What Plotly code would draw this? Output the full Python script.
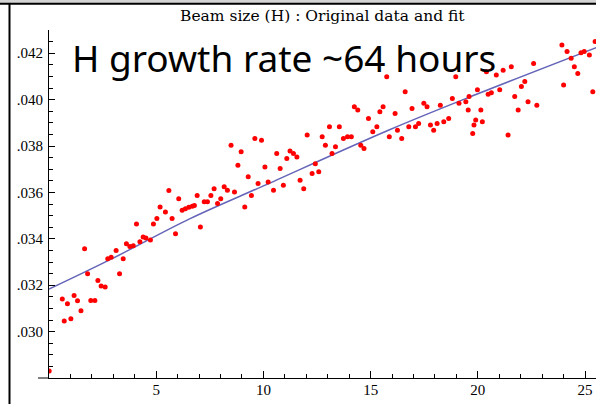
import plotly.graph_objects as go

# Data points (time in hours, beam size)
t = [0.01, 0.62, 0.71, 0.86, 1.02, 1.17, 1.33, 1.49, 1.66, 1.80, 1.95, 2.14, 2.28, 2.43, 2.62,
     2.74, 2.90, 3.13, 3.29, 3.46, 3.61, 3.77, 3.93, 4.08, 4.24, 4.39, 4.52, 4.73, 4.87, 5.03,
     5.18, 5.43, 5.59, 5.74, 5.90, 6.05, 6.21, 6.36, 6.52, 6.68, 6.78, 6.91, 7.06, 7.24, 7.39,
     7.55, 7.70, 7.86, 8.01, 8.17, 8.32, 8.49, 8.65, 8.81, 8.96, 9.13, 9.29, 9.44, 9.60, 9.75,
     9.91, 10.07, 10.22, 10.47, 10.62, 10.78, 10.93, 11.09, 11.24, 11.40, 11.56, 11.71, 11.88, 12.04, 12.27,
     12.42, 12.58, 12.74, 12.89, 13.08, 13.20, 13.36, 13.54, 13.73, 13.92, 14.10, 14.24, 14.40, 14.54, 14.69,
     14.90, 15.10, 15.29, 15.43, 15.58, 15.75, 15.87, 16.14, 16.25, 16.45, 16.61, 16.78, 16.93, 17.09, 17.24,
     17.48, 17.63, 17.79, 17.94, 18.10, 18.25, 18.41, 18.64, 18.81, 18.97, 19.12, 19.44, 19.59, 19.55, 19.76,
     19.82, 19.90, 19.98, 20.14, 20.21, 20.40, 20.48, 20.63, 20.86, 21.02, 21.18, 21.41, 21.56, 21.72, 21.88,
     22.03, 22.19, 22.34, 22.60, 22.75, 23.92, 24.00, 24.16, 24.35, 24.50, 24.66, 24.81, 24.96, 25.20, 25.36,
     25.47]
size = [0.0283, 0.03141, 0.03046, 0.0312, 0.03055, 0.03156, 0.03133, 0.0309, 0.03357, 0.03249, 0.03134, 0.03134, 0.0322, 0.03197, 0.03192,
        0.03314, 0.0332, 0.0335, 0.03249, 0.03314, 0.03379, 0.03367, 0.0337, 0.03464, 0.03387, 0.03408, 0.03403, 0.03395, 0.03464, 0.03487,
        0.03537, 0.03516, 0.03608, 0.03487, 0.03422, 0.03573, 0.03523, 0.0353, 0.03536, 0.0354, 0.03544, 0.03587, 0.03451, 0.0356, 0.0356,
        0.03587, 0.03616, 0.03552, 0.03573, 0.03624, 0.03609, 0.03803, 0.03602, 0.03717, 0.03775, 0.03537, 0.03667, 0.03587, 0.03832, 0.03638,
        0.03825, 0.0371, 0.03645, 0.03609, 0.03768, 0.03703, 0.03631, 0.03746, 0.03778, 0.03768, 0.03753, 0.03652, 0.03616, 0.03847, 0.03681,
        0.03724, 0.03689, 0.0384, 0.03803, 0.03883, 0.03768, 0.03797, 0.03883, 0.03832, 0.0384, 0.0384, 0.03969, 0.03955, 0.03803, 0.03789,
        0.03919, 0.03861, 0.03883, 0.03948, 0.03969, 0.04099, 0.0384, 0.0394, 0.03868, 0.03832, 0.04034, 0.03883, 0.03962, 0.03883, 0.03897,
        0.03984, 0.03969, 0.0389, 0.03868, 0.03897, 0.03976, 0.03905, 0.03919, 0.04005, 0.04099, 0.03984, 0.03991, 0.04013, 0.03955, 0.03854,
        0.0389, 0.03912, 0.04042, 0.03955, 0.03905, 0.0412, 0.04023, 0.0403, 0.04106, 0.04042, 0.04127, 0.03847, 0.04142, 0.04013, 0.03955,
        0.04056, 0.04078, 0.03991, 0.04156, 0.03976, 0.04235, 0.04063, 0.04207, 0.04178, 0.04142, 0.04113, 0.04202, 0.04207, 0.04192, 0.04034,
        0.0425]

# Fit curve, points
fit_t = [0.0, 2.85, 6.58, 10.0, 15.91, 20.0, 25.52]
fit_size = [0.03183, 0.0331, 0.03487, 0.03628, 0.03871, 0.04025, 0.04224]

x_ticks = [5, 10, 15, 20, 25]
x_labels = ["5", "10", "15", "20", "25"]
y_ticks = [0.030, 0.032, 0.034, 0.036, 0.038, 0.040, 0.042]
y_labels = [".030", ".032", ".034", ".036", ".038", ".040", ".042"]

W, H = 596, 404
L, R, T, B = 49, 0, 30, 26
pw, ph = W - L - R, H - T - B


def px(x):
    return (x - L) / pw


def py(y):
    return (H - B - y) / ph


fig = go.Figure()
fig.add_trace(go.Scatter(x=fit_t, y=fit_size, mode="lines",
                         line=dict(color="rgb(100,100,185)", width=1.5, shape="spline"),
                         hoverinfo="skip"))
fig.add_trace(go.Scatter(x=t, y=size, mode="markers",
                         marker=dict(color="#ff0000", size=5, line=dict(width=0))))

tickfont = dict(family="Liberation Serif", size=15, color="black")
fig.update_xaxes(range=[0, 25.51], showline=True, linecolor="black", linewidth=1,
                 showgrid=False, zeroline=False, automargin=False,
                 tickmode="array", tickvals=x_ticks, ticktext=x_labels,
                 ticks="inside", ticklen=7, tickcolor="black", tickwidth=1,
                 tickfont=tickfont, ticklabelstandoff=-2,
                 minor=dict(tickmode="linear", tick0=0, dtick=1, ticks="inside",
                            ticklen=4, tickcolor="black", tickwidth=1, showgrid=False))
fig.update_yaxes(range=[0.028, 0.043], showline=True, linecolor="black", linewidth=1,
                 showgrid=False, zeroline=False, automargin=False,
                 tickmode="array", tickvals=y_ticks, ticktext=y_labels,
                 ticks="inside", ticklen=6, tickcolor="black", tickwidth=1,
                 tickfont=tickfont, ticklabelstandoff=2,
                 minor=dict(tickmode="linear", tick0=0.028, dtick=0.0005, ticks="inside",
                            ticklen=4, tickcolor="black", tickwidth=1, showgrid=False))

shapes = [
    dict(type="rect", xref="paper", yref="paper", x0=px(0), x1=px(W), y0=py(0), y1=py(3),
         fillcolor="#d4d4d4", line=dict(width=0), layer="above"),
    dict(type="line", xref="paper", yref="paper", x0=px(0), x1=px(W), y0=py(3.8), y1=py(3.8),
         line=dict(color="black", width=2)),
    dict(type="line", xref="paper", yref="paper", x0=px(9.5), x1=px(9.5), y0=py(3), y1=py(H),
         line=dict(color="black", width=2)),
    dict(type="line", xref="paper", yref="paper", x0=px(38), x1=px(49), y0=py(378), y1=py(378),
         line=dict(color="black", width=1)),
]

annotations = [
    dict(text="Beam size (H) : Original data and fit", xref="paper", yref="paper",
         x=px(322), y=py(16), xanchor="center", yanchor="middle", showarrow=False,
         font=dict(family="DejaVu Serif", size=15.5, color="black")),
    dict(text="H growth rate ~64 hours", xref="paper", yref="paper",
         x=px(284), y=py(57), xanchor="center", yanchor="middle", showarrow=False,
         font=dict(family="Noto Sans", size=37, color="black")),
]

fig.update_layout(width=W, height=H, margin=dict(l=L, r=R, t=T, b=B),
                  paper_bgcolor="white", plot_bgcolor="white", showlegend=False,
                  shapes=shapes, annotations=annotations)

fig.write_html("out.html", config={"displayModeBar": False},
               post_script="document.body.style.margin='0';document.body.style.padding='0';"
                           "document.body.style.overflow='hidden';")
